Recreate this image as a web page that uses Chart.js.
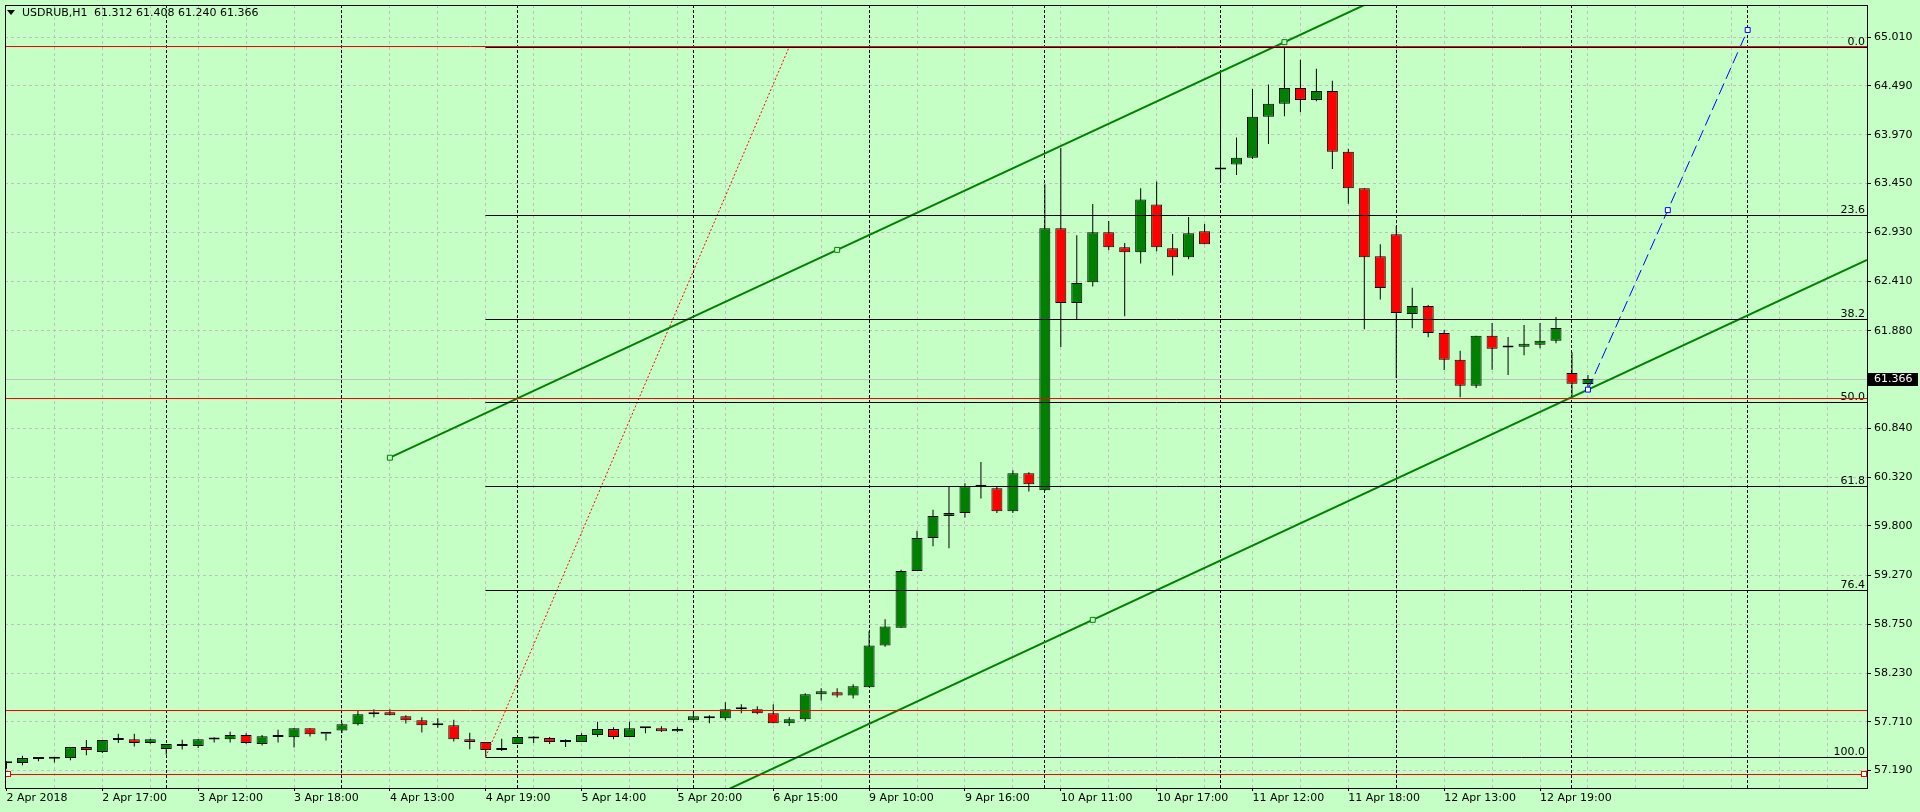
<!DOCTYPE html>
<html>
<head>
<meta charset="utf-8">
<title>USDRUB,H1</title>
<script src="https://cdn.jsdelivr.net/npm/chart.js@4.4.1/dist/chart.umd.min.js"></script>
<style>
  html, body { margin: 0; padding: 0; background: #c6ffc6; }
  canvas { display: block; }
</style>
</head>
<body>
<canvas id="chart" width="1920" height="812"></canvas>
<script>
// USDRUB H1 bars, index 0 = 2 Apr 2018 11:00, last = 13 Apr 11:00
const opens = [
  57.268, 57.270, 57.314, 57.315, 57.323, 57.440, 57.387, 57.515, 57.525, 57.483,
  57.419, 57.472, 57.451, 57.522, 57.525, 57.568, 57.472, 57.549, 57.546, 57.642,
  57.582, 57.617, 57.684, 57.791, 57.812, 57.770, 57.727, 57.674, 57.674, 57.525,
  57.494, 57.409, 57.472, 57.533, 57.536, 57.494, 57.494, 57.568, 57.632, 57.547,
  57.642, 57.642, 57.610, 57.727, 57.770, 57.748, 57.844, 57.844, 57.802, 57.695,
  57.738, 58.003, 58.024, 57.989, 58.077, 58.523, 58.714, 59.319, 59.670, 59.903,
  59.935, 60.215, 60.200, 59.956, 60.360, 60.180, 62.972, 62.175, 62.398, 62.929,
  62.770, 62.717, 63.226, 62.759, 62.664, 62.940, 63.600, 63.651, 63.725, 64.161,
  64.299, 64.469, 64.341, 64.437, 63.789, 63.400, 62.675, 62.908, 62.058, 62.143,
  61.856, 61.570, 61.294, 61.825, 61.705, 61.708, 61.729, 61.772, 61.428, 61.312
];
const highs = [
  57.290, 57.348, 57.334, 57.334, 57.440, 57.515, 57.515, 57.582, 57.582, 57.529,
  57.472, 57.518, 57.525, 57.546, 57.603, 57.589, 57.568, 57.624, 57.642, 57.642,
  57.586, 57.700, 57.833, 57.844, 57.844, 57.780, 57.759, 57.748, 57.731, 57.593,
  57.494, 57.529, 57.547, 57.557, 57.547, 57.525, 57.589, 57.710, 57.653, 57.710,
  57.653, 57.663, 57.653, 57.823, 57.780, 57.918, 57.897, 57.876, 57.897, 57.759,
  58.014, 58.067, 58.067, 58.109, 58.675, 58.803, 59.330, 59.747, 59.970, 60.222,
  60.253, 60.480, 60.215, 60.391, 60.370, 63.442, 63.827, 62.897, 63.230, 63.050,
  62.816, 63.400, 63.471, 62.911, 63.092, 63.018, 64.631, 63.941, 64.461, 64.504,
  64.915, 64.769, 64.673, 64.546, 63.820, 63.400, 62.802, 62.993, 62.338, 62.154,
  61.888, 61.665, 61.825, 61.963, 61.814, 61.941, 61.963, 62.026, 61.651, 61.408
];
const lows = [
  57.210, 57.246, 57.288, 57.277, 57.299, 57.352, 57.377, 57.483, 57.447, 57.476,
  57.359, 57.415, 57.430, 57.490, 57.490, 57.476, 57.458, 57.490, 57.437, 57.553,
  57.511, 57.590, 57.670, 57.759, 57.780, 57.692, 57.596, 57.646, 57.501, 57.416,
  57.337, 57.398, 57.472, 57.483, 57.472, 57.441, 57.494, 57.547, 57.525, 57.547,
  57.589, 57.600, 57.600, 57.727, 57.695, 57.727, 57.802, 57.791, 57.695, 57.664,
  57.717, 57.936, 57.968, 57.957, 58.077, 58.509, 58.714, 59.319, 59.581, 59.560,
  59.889, 60.091, 59.935, 59.935, 60.165, 60.170, 61.705, 62.006, 62.352, 62.738,
  62.034, 62.597, 62.727, 62.469, 62.643, 62.802, 63.460, 63.541, 63.711, 63.870,
  64.167, 64.210, 64.326, 63.605, 63.233, 61.896, 62.214, 61.375, 61.906, 61.810,
  61.460, 61.170, 61.269, 61.464, 61.407, 61.619, 61.694, 61.747, 61.181, 61.240
];
const closes = [
  57.272, 57.323, 57.318, 57.318, 57.440, 57.408, 57.515, 57.536, 57.483, 57.525,
  57.472, 57.451, 57.525, 57.526, 57.568, 57.483, 57.557, 57.553, 57.642, 57.578,
  57.585, 57.684, 57.791, 57.812, 57.780, 57.727, 57.674, 57.695, 57.525, 57.494,
  57.409, 57.430, 57.547, 57.547, 57.494, 57.497, 57.568, 57.632, 57.547, 57.642,
  57.645, 57.610, 57.632, 57.770, 57.748, 57.844, 57.847, 57.802, 57.695, 57.738,
  58.003, 58.035, 57.989, 58.088, 58.523, 58.725, 59.319, 59.670, 59.903, 59.935,
  60.222, 60.219, 59.956, 60.360, 60.243, 62.972, 62.175, 62.388, 62.929, 62.770,
  62.717, 63.280, 62.770, 62.664, 62.919, 62.802, 63.610, 63.725, 64.161, 64.299,
  64.469, 64.341, 64.437, 63.789, 63.400, 62.664, 62.335, 62.069, 62.143, 61.856,
  61.570, 61.294, 61.825, 61.687, 61.701, 61.740, 61.772, 61.910, 61.315, 61.366
];

// time labels, one every 6 bars from bar 0
const timeLabels = [
  '2 Apr 2018', '2 Apr 17:00', '3 Apr 12:00', '3 Apr 18:00', '4 Apr 13:00', '4 Apr 19:00',
  '5 Apr 14:00', '5 Apr 20:00', '6 Apr 15:00', '9 Apr 10:00', '9 Apr 16:00', '10 Apr 11:00',
  '10 Apr 17:00', '11 Apr 12:00', '11 Apr 18:00', '12 Apr 13:00', '12 Apr 19:00'
];
const dayStarts = [10, 21, 32, 43, 54, 65, 76, 87, 98, 109];
const priceTicks = [65.010, 64.490, 63.970, 63.450, 62.930, 62.410, 61.880,
                    60.840, 60.320, 59.800, 59.270, 58.750, 58.230, 57.710, 57.190];

// objects on the chart
const symbolText = 'USDRUB,H1';
const ohlcText = '61.312 61.408 61.240 61.366';
const bidPrice = 61.366;
const fibLevels = ['0.0', '23.6', '38.2', '50.0', '61.8', '76.4', '100.0'];
const fibPrices = [64.907, 63.115, 62.010, 61.120, 60.225, 59.120, 57.337];
const fibStartBar = 30;
const fibDiagonal = [[30, 57.337], [49, 64.907]];
const redLevels = [64.917, 61.167, 57.834, 57.154];
const redMarkerBars = [0.1, 116.25];
const channelTop = [[24, 60.526], [52, 62.742], [80, 64.957]];
const channelBottom = [[68, 58.797], [99, 61.252]];
const projection = [[99, 61.252], [104, 63.166], [109, 65.087]];

const X_MIN = -0.09375, X_MAX = 116.46875;
const Y_MIN = 57.004, Y_MAX = 65.353;
const BG = '#c6ffc6';
const FONT = '11px "DejaVu Sans"';

const gridBars = [];
for (let b = 0; b <= 114; b += 3) gridBars.push(b);

// line through two anchors, stretched to x0..x1
function ray(p, q, x0, x1) {
  const k = (q[1] - p[1]) / (q[0] - p[0]);
  return [{x: x0, y: p[1] + (x0 - p[0]) * k}, {x: x1, y: p[1] + (x1 - p[0]) * k}];
}

function lineSet(points, color, width, dash, order) {
  return {
    type: 'line', data: points, borderColor: color, borderWidth: width,
    borderDash: dash, pointRadius: 0, tension: 0, order: order
  };
}

function markerSet(points, color, fill) {
  return {
    type: 'line', showLine: false, order: 0,
    data: points.map(p => ({x: p[0], y: p[1]})),
    pointStyle: 'rect', pointRadius: 3.5, pointBorderWidth: 1,
    pointBorderColor: color, pointBackgroundColor: fill
  };
}

const overlay = {
  id: 'overlay',
  beforeDatasetsDraw(chart) {
    const {ctx, chartArea: a, scales: {x, y}} = chart;
    ctx.save();
    ctx.lineWidth = 1;
    // period separators
    ctx.strokeStyle = '#000';
    ctx.setLineDash([3, 2]);
    dayStarts.forEach(b => {
      const px = Math.floor(x.getPixelForValue(b)) + 0.5;
      if (px > a.right) return;
      ctx.beginPath(); ctx.moveTo(px, a.top); ctx.lineTo(px, a.bottom); ctx.stroke();
    });
    // bid line
    ctx.setLineDash([]);
    ctx.strokeStyle = '#c0c0c0';
    const by = Math.round(y.getPixelForValue(bidPrice)) + 0.5;
    ctx.beginPath(); ctx.moveTo(a.left, by); ctx.lineTo(a.right, by); ctx.stroke();
    ctx.restore();
  },
  afterDatasetsDraw(chart) {
    const {ctx, chartArea: a, scales: {x, y}} = chart;
    ctx.save();
    ctx.lineWidth = 1;
    ctx.setLineDash([]);
    // fibo levels
    const fx = Math.floor(x.getPixelForValue(fibStartBar)) + 0.5;
    ctx.font = FONT;
    ctx.textAlign = 'right';
    ctx.textBaseline = 'alphabetic';
    fibPrices.forEach((v, i) => {
      const py = Math.round(y.getPixelForValue(v)) + 0.5;
      ctx.strokeStyle = '#000';
      ctx.beginPath(); ctx.moveTo(fx, py); ctx.lineTo(a.right, py); ctx.stroke();
      ctx.fillStyle = '#000';
      ctx.fillText(fibLevels[i], a.right - 2, py - 2.5);
    });
    // horizontal red lines
    ctx.strokeStyle = '#ff0000';
    redLevels.forEach(v => {
      const py = Math.round(y.getPixelForValue(v)) + 0.5;
      ctx.beginPath(); ctx.moveTo(a.left, py); ctx.lineTo(a.right, py); ctx.stroke();
    });
    const last = redLevels[redLevels.length - 1];
    const ly = Math.round(y.getPixelForValue(last));
    redMarkerBars.forEach(b => {
      const px = Math.round(x.getPixelForValue(b));
      ctx.fillStyle = '#fff';
      ctx.fillRect(px - 2, ly - 2, 5, 5);
      ctx.strokeRect(px - 2.5, ly - 2.5, 5, 5);
    });
    // frame
    ctx.strokeStyle = '#000';
    ctx.strokeRect(a.left + 0.5, a.top + 0.5, a.right - a.left, a.bottom - a.top);
    // current price box
    ctx.fillStyle = '#000';
    const yb = Math.round(y.getPixelForValue(bidPrice));
    ctx.fillRect(a.right + 1, yb - 6, 50, 13);
    ctx.fillStyle = '#fff';
    ctx.textAlign = 'left';
    ctx.textBaseline = 'middle';
    ctx.fillText(bidPrice.toFixed(3), a.right + 7, yb + 0.5);
    // title
    ctx.fillStyle = '#000';
    ctx.beginPath();
    ctx.moveTo(7, 10); ctx.lineTo(15, 10); ctx.lineTo(11, 15); ctx.closePath(); ctx.fill();
    ctx.fillText(symbolText, 22, 13);
    ctx.fillText(ohlcText, 94, 13);
    ctx.restore();
  }
};

const wickData = lows.map((l, i) => ({x: i, y: [l, highs[i]]}));
const bodyData = opens.map((o, i) => ({x: i, y: [Math.min(o, closes[i]), Math.max(o, closes[i])]}));
const bodyColors = opens.map((o, i) => closes[i] >= o ? '#008000' : '#ff0000');

new Chart(document.getElementById('chart'), {
  type: 'bar',
  data: {
    datasets: [
      {
        data: wickData, backgroundColor: '#000', borderWidth: 0,
        grouped: false, barThickness: 1, maxBarThickness: 1, barPercentage: 1,
        inflateAmount: 0, order: 6
      },
      {
        data: bodyData, backgroundColor: bodyColors, borderColor: '#000', borderWidth: 1,
        borderSkipped: false, grouped: false, barThickness: 11, maxBarThickness: 11,
        barPercentage: 1, inflateAmount: 0, minBarLength: 2, order: 5
      },
      lineSet(ray(channelTop[0], channelTop[2], channelTop[0][0], X_MAX), '#008000', 2, [], 2),
      lineSet(ray(channelBottom[0], channelBottom[1], 40, X_MAX), '#008000', 2, [], 2),
      lineSet(fibDiagonal.map(p => ({x: p[0], y: p[1]})), '#ff0000', 1, [2, 2], 2),
      lineSet(projection.map(p => ({x: p[0], y: p[1]})), '#0000ff', 1, [12, 5], 1),
      markerSet(channelTop.concat([channelBottom[0]]), '#008000', BG),
      markerSet(projection, '#0000ff', '#ffffff')
    ]
  },
  options: {
    responsive: false,
    animation: false,
    devicePixelRatio: 1,
    events: [],
    layout: { padding: { left: 2, top: 2, right: 0, bottom: 0 } },
    plugins: { legend: { display: false }, tooltip: { enabled: false } },
    scales: {
      x: {
        type: 'linear', min: X_MIN, max: X_MAX, offset: false,
        afterBuildTicks: s => { s.ticks = gridBars.map(v => ({value: v})); },
        afterFit: s => { s.height = 24; s.paddingLeft = 0; s.paddingRight = 0; },
        ticks: {
          autoSkip: false, maxRotation: 0, minRotation: 0, align: 'start',
          padding: 1, color: '#000', font: { family: 'DejaVu Sans', size: 11 },
          callback: v => (v % 6 === 0 && v / 6 < timeLabels.length) ? timeLabels[v / 6] : ''
        },
        grid: {
          offset: false, tickLength: 3,
          color: c => (c.tick && c.tick.value === 0) ? 'rgba(0,0,0,0)' : '#c0c0c0',
          tickColor: c => (c.tick && c.tick.value % 6 === 0 && c.tick.value / 6 < timeLabels.length) ? '#000' : 'rgba(0,0,0,0)'
        },
        border: { display: false, dash: [3, 3] }
      },
      y: {
        type: 'linear', position: 'right', min: Y_MIN, max: Y_MAX, beginAtZero: false,
        afterBuildTicks: s => { s.ticks = priceTicks.map(v => ({value: v})); },
        afterFit: s => { s.width = 53; s.paddingTop = 0; s.paddingBottom = 0; },
        ticks: {
          padding: 3, color: '#000', font: { family: 'DejaVu Sans', size: 11 },
          callback: v => v.toFixed(3)
        },
        grid: { color: '#c0c0c0', tickLength: 4, tickColor: '#000' },
        border: { display: false, dash: [3, 3] }
      }
    }
  },
  plugins: [overlay]
});
</script>
</body>
</html>
